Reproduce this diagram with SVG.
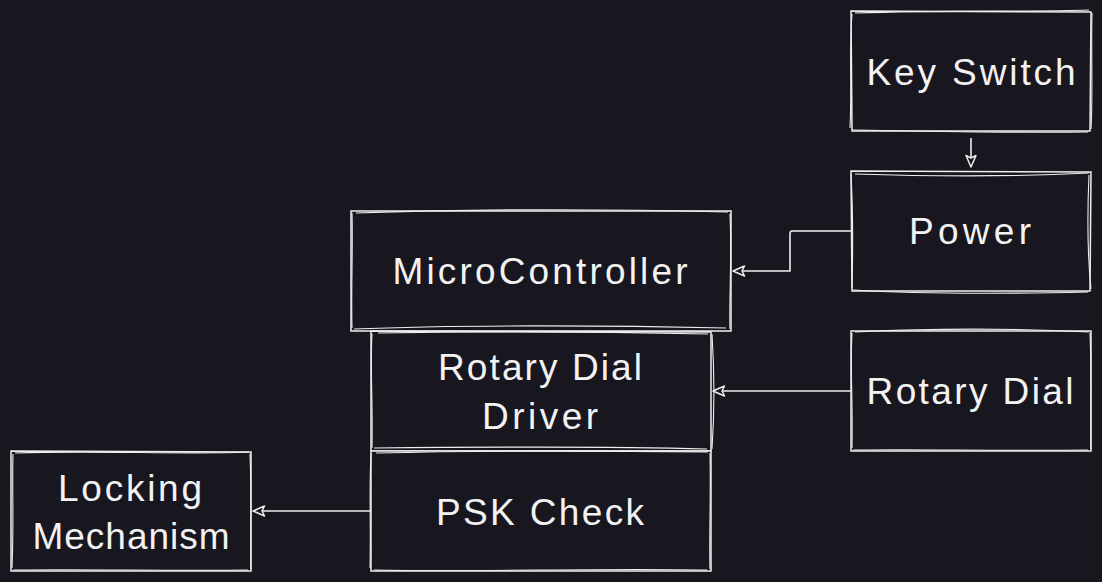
<svg xmlns="http://www.w3.org/2000/svg" width="1102" height="582" viewBox="0 0 1102 582">
<defs>
<style>
.bg{fill:#18161f}
.b{fill:#18161f;stroke:#eeeeee;stroke-width:1.5}
.s{fill:none;stroke:#eeeeee;stroke-width:1.1}
.c{fill:none;stroke:#eeeeee;stroke-width:1.6}
.t{font-family:"Liberation Sans",Arial,sans-serif;font-size:37px;fill:#f2f2f2;text-anchor:middle}
</style>
<marker id="ah" viewBox="0 0 14 14" refX="13" refY="7" markerWidth="14" markerHeight="14" markerUnits="userSpaceOnUse" orient="auto">
<path d="M1.5 2 L13 7 L1.5 12 L4 7 Z" fill="#18161f" stroke="#eeeeee" stroke-width="1.5" stroke-linejoin="round"/>
</marker>
</defs>
<rect class="bg" x="0" y="0" width="1102" height="582"/>
<g id="connectors">
<path class="c" d="M971 138 L971 167" marker-end="url(#ah)"/>
<path class="c" d="M851 231 L792 231 Q790 231 790 234 L790 271 L733 271" marker-end="url(#ah)"/>
<path class="c" d="M851 391 L713 391" marker-end="url(#ah)"/>
<path class="c" d="M371 511 L253 511" marker-end="url(#ah)"/>
</g>
<g id="key-switch">
<path class="b" d="M851 11 L1091 12 L1090 131 L852 131 Z"/>
<path class="s" d="M855 13 C950 10 1030 12 1089 10 M1092 13 C1091 50 1093 95 1091 129 M1088 132 C1000 133 920 131 853 130 M850 128 C852 90 849 50 852 14"/>
<text class="t" x="971" y="85" textLength="209" lengthAdjust="spacing">Key Switch</text>
</g>
<g id="power">
<path class="b" d="M851 171 L1091 172 L1090 291 L852 291 Z"/>
<path class="s" d="M855 174 C950 177 1030 176 1089 173 M1089 175 C1087 220 1088 260 1091 289 M1088 292 C1000 294 920 294 853 290 M852 288 C853 250 853 210 851 174"/>
<text class="t" x="970" y="244" textLength="122" lengthAdjust="spacing">Power</text>
</g>
<g id="rotary-dial">
<path class="b" d="M851 331 L1091 331 L1091 451 L851 451 Z"/>
<path class="s" d="M855 332 C940 328 1030 329 1089 332 M1090 333 C1092 380 1090 420 1091 449 M1088 450 C1000 451 920 449 853 450 M852 448 C853 400 850 370 852 333"/>
<text class="t" x="970" y="404" textLength="207" lengthAdjust="spacing">Rotary Dial</text>
</g>
<g id="microcontroller">
<path class="b" d="M351 211 L731 211 L731 331 L351 331 Z"/>
<path class="s" d="M356 213 C500 208 650 210 728 212 M730 214 C732 260 729 300 730 329 M726 328 C600 325 450 325 354 329 M352 328 C351 290 353 250 352 213"/>
<text class="t" x="540" y="284" textLength="295" lengthAdjust="spacing">MicroController</text>
</g>
<g id="rotary-dial-driver">
<path class="b" d="M371 331 L711 332 L711 451 L371 451 Z"/>
<path class="s" d="M378 333 C500 331 620 332 708 334 M712 334 C715 380 714 420 712 449 M707 449 C600 446 470 447 374 448 M372 448 C373 400 370 370 372 334"/>
<text class="t" x="540" y="380" textLength="204" lengthAdjust="spacing">Rotary Dial</text>
<text class="t" x="540" y="429" textLength="116" lengthAdjust="spacing">Driver</text>
</g>
<g id="psk-check">
<path class="b" d="M371 451 L711 451 L711 571 L371 571 Z"/>
<path class="s" d="M376 453 C500 450 620 451 708 452 M710 453 C711 500 709 540 710 569 M707 570 C600 568 470 572 374 570 M370 568 C371 520 369 490 371 454"/>
<text class="t" x="540" y="525" textLength="208" lengthAdjust="spacing">PSK Check</text>
</g>
<g id="locking-mechanism">
<path class="b" d="M11 451 L251 452 L251 571 L11 571 Z"/>
<path class="s" d="M15 453 C100 450 180 455 249 452 M250 454 C252 500 250 540 251 569 M248 570 C170 571 90 569 13 570 M12 568 C14 520 12 490 13 454"/>
<text class="t" x="130" y="501" textLength="144" lengthAdjust="spacing">Locking</text>
<text class="t" x="131" y="549" textLength="197" lengthAdjust="spacing">Mechanism</text>
</g>
</svg>
